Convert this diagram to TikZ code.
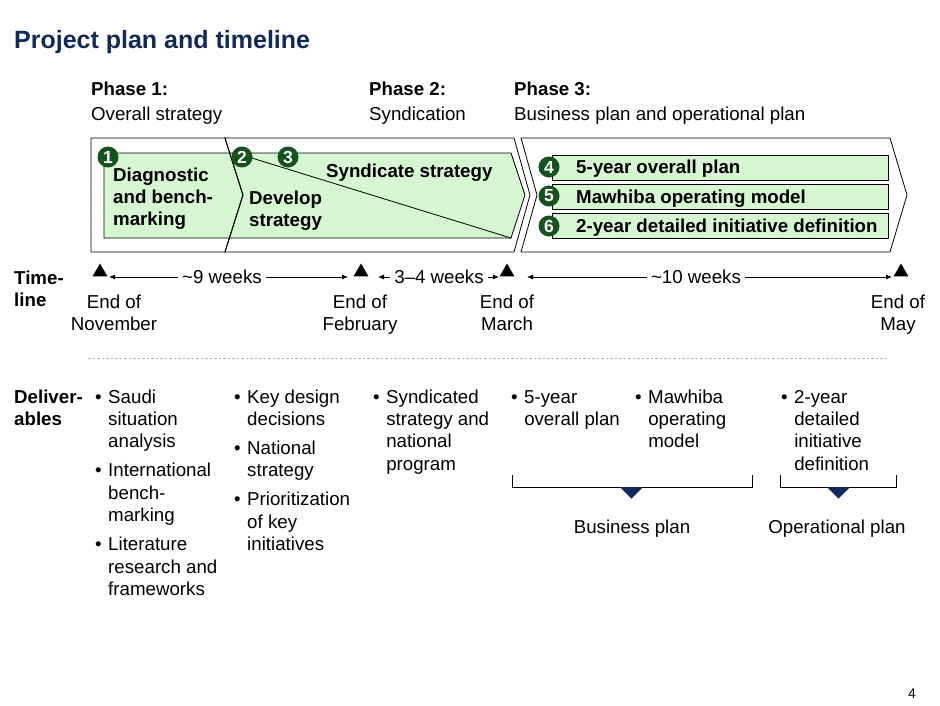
\documentclass[tikz,border=0pt]{standalone}
\usepackage{fontspec}
\setmainfont{Liberation Sans}
\usetikzlibrary{arrows.meta,shapes.geometric}
\definecolor{navy}{RGB}{16,42,92}
\definecolor{lgreen}{RGB}{214,246,210}
\definecolor{dgreen}{RGB}{20,82,30}
\definecolor{dashgray}{RGB}{175,175,175}
\newcommand{\mlL}[1]{\begin{tabular}[t]{@{}l@{}}#1\end{tabular}}
\newcommand{\mlC}[1]{\begin{tabular}[t]{@{}c@{}}#1\end{tabular}}
\newcommand{\blist}[1]{\begin{tabular}[t]{@{}l@{\hspace{6.5pt}}l@{}}#1\end{tabular}}
\begin{document}
\begin{tikzpicture}[x=1pt,y=-1pt,
  txt/.style={inner sep=0pt, anchor=base west, font=\fontsize{18.7}{22.4}\selectfont},
  btxt/.style={txt, font=\fontsize{18.7}{22.4}\selectfont\bfseries},
  ctxt/.style={txt, anchor=base},
  badge/.style={circle, fill=dgreen, text=white, inner sep=0pt, minimum size=21pt, font=\fontsize{17.5}{17.5}\selectfont\bfseries},
  outer/.style={draw=black, line width=0.8pt, fill=white, line join=miter},
  gbox/.style={draw=black, line width=0.8pt, fill=lgreen},
  tri/.style={regular polygon, regular polygon sides=3, fill=black, inner sep=0pt, minimum size=17pt},
  tlarrow/.style={line width=0.8pt, {Latex[length=6pt,width=5pt]}-{Latex[length=6pt,width=5pt]}},
  wlab/.style={fill=white, inner xsep=4pt, inner ysep=1.5pt, font=\fontsize{18.7}{22.4}\selectfont},
  thin/.style={line width=0.8pt, draw=black}
]
\path[use as bounding box, fill=white] (0,0) rectangle (940,705);

% title
\node[txt, font=\fontsize{25}{30}\selectfont\bfseries, text=navy] (title) at (14,48) {Project plan and timeline};

% phase labels
\node[txt] (ph1) at (91,95) {\mlL{\bfseries Phase 1:\\[2.6pt] Overall strategy}};
\node[txt] (ph2) at (369,95) {\mlL{\bfseries Phase 2:\\[2.6pt] Syndication}};
\node[txt] (ph3) at (514,95) {\mlL{\bfseries Phase 3:\\[2.6pt] Business plan and operational plan}};

% outer chevrons
\draw[outer] (91,138) -- (225,138) -- (243,195) -- (225,252) -- (91,252) -- cycle;
\draw[outer] (225,138) -- (514,138) -- (530,195) -- (514,252) -- (225,252) -- (243,195) -- cycle;
\draw[outer] (521,138) -- (890,138) -- (907,195) -- (890,252) -- (521,252) -- (537,195) -- cycle;

% green boxes
\draw[gbox] (104,153) -- (229.7,153) -- (243,195) -- (229.4,238) -- (104,238) -- cycle;
\draw[gbox] (229.7,153) -- (511,153) -- (525,195) -- (511,238) -- (229.4,238) -- (243,195) -- cycle;
\draw[thin] (225,138) -- (243,195) -- (225,252);
\draw[thin] (242,155) -- (511,238);

\draw[gbox] (552,155) rectangle (888,180);
\draw[gbox] (552,184) rectangle (888,209);
\draw[gbox] (552,213) rectangle (888,238);

% box texts
\node[btxt] (t1) at (113,181) {\mlL{Diagnostic\\and bench-\\marking}};
\node[btxt] (t2) at (249,204) {\mlL{Develop\\strategy}};
\node[btxt] (t3) at (326,177) {Syndicate strategy};
\node[btxt] (t4) at (576,173.5) {5-year overall plan};
\node[btxt] (t5) at (576,203) {Mawhiba operating model};
\node[btxt] (t6) at (576,232.5) {2-year detailed initiative definition};

% badges
\node[badge] (b1) at (108,157) {1};
\node[badge] (b2) at (242,157) {2};
\node[badge] (b3) at (288,157) {3};
\node[badge] (b4) at (549,167) {4};
\node[badge] (b5) at (549,196) {5};
\node[badge] (b6) at (549,226) {6};

% timeline
\node[btxt] (tll) at (14,284) {\mlL{Time-\\line}};
\node[tri] (m1) at (100,272) {};
\node[tri] (m2) at (361,272) {};
\node[tri] (m3) at (507,272) {};
\node[tri] (m4) at (901,272) {};

\coordinate (a1l) at (109,277);
\coordinate (a1r) at (348,277);
\coordinate (a2l) at (378,277);
\coordinate (a2r) at (499,277);
\coordinate (a3l) at (527,277);
\coordinate (a3r) at (892,277);
\draw[tlarrow] (a1l) -- (a1r);
\draw[tlarrow] (a2l) -- (a2r);
\draw[tlarrow] (a3l) -- (a3r);
\node[wlab] (w1) at (222,277) {\textasciitilde 9 weeks};
\node[wlab] (w2) at (439,277) {3–4 weeks};
\node[wlab] (w3) at (696,277) {\textasciitilde 10 weeks};

\node[ctxt] (e1) at (114,308) {\mlC{End of\\November}};
\node[ctxt] (e2) at (360,308) {\mlC{End of\\February}};
\node[ctxt] (e3) at (507,308) {\mlC{End of\\March}};
\node[ctxt] (e4) at (898,308) {\mlC{End of\\May}};

% dashed separator
\coordinate (d1) at (88,358);
\coordinate (d2) at (888,358);
\draw[dashgray, line width=0.8pt, dash pattern=on 2.5pt off 2pt] (d1) -- (d2);

% deliverables
\node[btxt] (dl) at (14,403) {\mlL{Deliver-\\ables}};
\node[txt] (c1) at (95,403) {\blist{•&Saudi\\&situation\\&analysis\\[6.6pt]•&International\\&bench-\\&marking\\[6.6pt]•&Literature\\&research and\\&frameworks}};
\node[txt] (c2) at (234,403) {\blist{•&Key design\\&decisions\\[6.6pt]•&National\\&strategy\\[6.6pt]•&Prioritization\\&of key\\&initiatives}};
\node[txt] (c3) at (373,403) {\blist{•&Syndicated\\&strategy and\\&national\\&program}};
\node[txt] (c4) at (511,403) {\blist{•&5-year\\&overall plan}};
\node[txt] (c5) at (635,403) {\blist{•&Mawhiba\\&operating\\&model}};
\node[txt] (c6) at (781,403) {\blist{•&2-year\\&detailed\\&initiative\\&definition}};

% brackets
\coordinate (bl1) at (512,475);
\coordinate (bl2) at (752,475);
\coordinate (ol1) at (780,475);
\coordinate (ol2) at (896,475);
\draw[thin] (bl1) -- ++(0,12) -| (bl2);
\draw[thin] (ol1) -- ++(0,12) -| (ol2);
\fill[navy] (620,487) -- (643,487) -- (631.5,498.5) -- cycle;
\fill[navy] (827,487) -- (850,487) -- (838.5,498.5) -- cycle;
\node[ctxt] (bp) at (632,533) {Business plan};
\node[ctxt] (op) at (837,533) {Operational plan};

% page number
\node[txt, anchor=base east, font=\fontsize{14}{16}\selectfont] (pg) at (916,698) {4};
\end{tikzpicture}
\end{document}
